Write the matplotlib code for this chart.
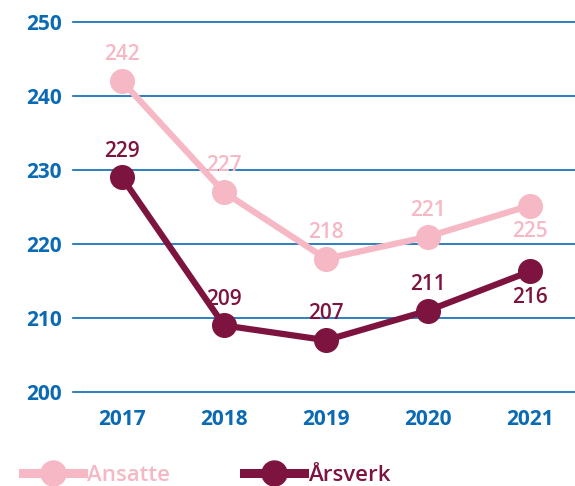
import matplotlib.pyplot as plt
from matplotlib.lines import Line2D

years = [2017, 2018, 2019, 2020, 2021]
ansatte = [242, 227, 218, 221, 225.2]
arsverk = [229, 209, 207, 211, 216.3]
ansatte_labels = ["242", "227", "218", "221", "225"]
arsverk_labels = ["229", "209", "207", "211", "216"]
yticks = [200, 210, 220, 230, 240, 250]

blue = "#0b6ab4"
pink = "#f6b8c5"
maroon = "#7d1440"

plt.rcParams['font.family'] = ['Open Sans', 'DejaVu Sans']

fig = plt.figure(figsize=(5.75, 4.86), dpi=100)
ax = fig.add_axes([73 / 575, 94 / 486, 502 / 575, 370 / 486])

ax.set_xlim(2016.52, 2021.44)
ax.set_ylim(200, 250)
for y in yticks:
    ax.axhline(y, color=blue, lw=1.2, zorder=1, clip_on=False)

ax.plot(years, ansatte, color=pink, lw=4.5, marker='o', ms=17, zorder=3, clip_on=False)
ax.plot(years, arsverk, color=maroon, lw=4.5, marker='o', ms=17, zorder=4, clip_on=False)

# labels: above except last point
for i, (x, v) in enumerate(zip(years, ansatte)):
    dy = -19 if i == len(years) - 1 else 19
    ax.annotate(ansatte_labels[i], (x, v), xytext=(0, dy), textcoords='offset points',
                ha='center', va='center', fontsize=15, fontweight='semibold', color=pink)
for i, (x, v) in enumerate(zip(years, arsverk)):
    dy = -19 if i == len(years) - 1 else 19
    ax.annotate(arsverk_labels[i], (x, v), xytext=(0, dy), textcoords='offset points',
                ha='center', va='center', fontsize=15, fontweight='semibold', color=maroon)

ax.set_xticks(years)
ax.set_xticklabels([str(y) for y in years])
ax.set_yticks(yticks)
ax.tick_params(length=0, labelsize=15, labelcolor=blue, pad=8)
for lab in ax.get_xticklabels() + ax.get_yticklabels():
    lab.set_fontweight('bold')
ax.tick_params(axis='x', pad=12)
for s in ax.spines.values():
    s.set_visible(False)

handles = [Line2D([], [], color=pink, lw=6.5, marker='o', ms=18),
           Line2D([], [], color=maroon, lw=6.5, marker='o', ms=18)]
leg = fig.legend(handles, ["Ansatte", "Årsverk"], loc='center left',
                 bbox_to_anchor=(23 / 575, 11 / 486), ncol=2, frameon=False,
                 borderpad=0, borderaxespad=0,
                 prop={'size': 16, 'weight': 'semibold'},
                 handlelength=2.7, columnspacing=3.3, handletextpad=0.2,
                 labelcolor=[pink, maroon])

fig.savefig("out.png", dpi=100)
